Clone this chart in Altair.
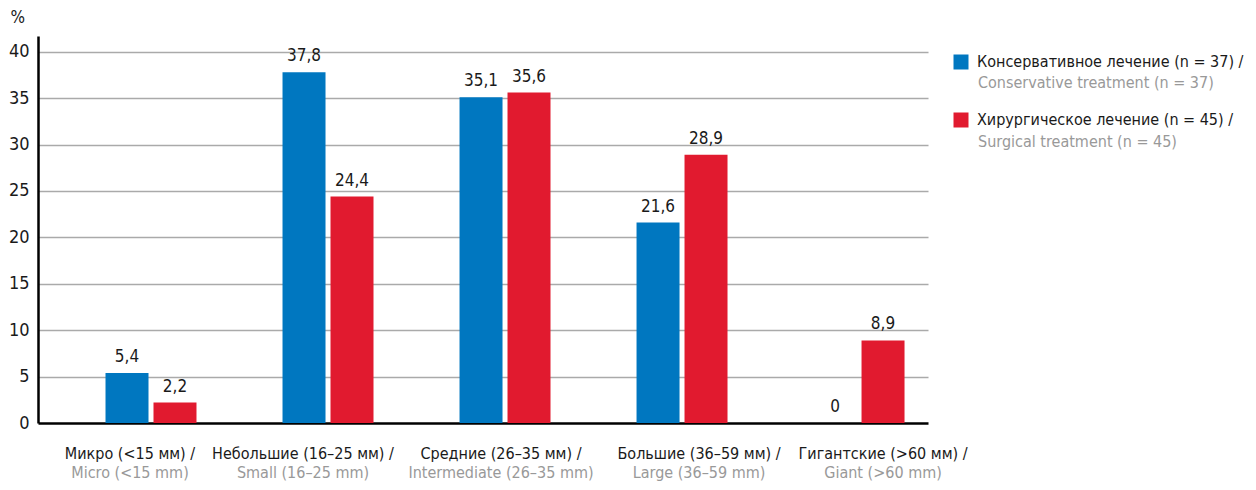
import altair as alt
import pandas as pd

# ---- data ----
categories_ru = [
    "Микро (<15 мм) /",
    "Небольшие (16–25 мм) /",
    "Средние (26–35 мм) /",
    "Большие (36–59 мм) /",
    "Гигантские (>60 мм) /",
]
categories_en = [
    "Micro (<15 mm)",
    "Small (16–25 mm)",
    "Intermediate (26–35 mm)",
    "Large (36–59 mm)",
    "Giant (>60 mm)",
]
series_ru = ["Консервативное лечение (n = 37) /", "Хирургическое лечение (n = 45) /"]
series_en = ["Conservative treatment (n = 37)", "Surgical treatment (n = 45)"]
conservative = [5.4, 37.8, 35.1, 21.6, 0]
surgical = [2.2, 24.4, 35.6, 28.9, 8.9]
y_ticks = [0, 5, 10, 15, 20, 25, 30, 35, 40]

rows = []
for s_idx, vals in enumerate([conservative, surgical]):
    for c_idx, v in enumerate(vals):
        rows.append({
            "cat": categories_ru[c_idx],
            "series": series_ru[s_idx],
            "value": v,
            "label": (f"{v:g}").replace(".", ","),
        })
df = pd.DataFrame(rows)

# ---- style ----
FONT = "DejaVu Sans Condensed, DejaVu Sans, sans-serif"
BLUE = "#0077c0"
RED = "#e11a2f"
GREY = "#999999"
DARK = "#1a1a1a"
label_shift = {  # horizontal nudge of axis labels (px)
    categories_ru[0]: -21,
    categories_ru[1]: -25,
    categories_ru[2]: -4,
    categories_ru[3]: 17,
    categories_ru[4]: 24,
}
offset_cond = {
    "condition": [{"test": f"datum.value === '{k}'", "value": v} for k, v in label_shift.items()],
    "value": 0,
}

x_scale = alt.Scale(domain=categories_ru, paddingInner=0.486, paddingOuter=0.257, align=0.742)
xo_scale = alt.Scale(domain=series_ru, paddingInner=0.104, paddingOuter=0)
y_scale = alt.Scale(domain=[0, 41.7], nice=False, zero=True)
color_scale = alt.Scale(domain=series_ru, range=[BLUE, RED])

en_cat_expr = (
    "[" + ",".join(f"'{e}'" for e in categories_en) + "][indexof(["
    + ",".join(f"'{r}'" for r in categories_ru) + "], datum.value)]"
)
en_ser_expr = (
    "[" + ",".join(f"'{e}'" for e in series_en) + "][indexof(["
    + ",".join(f"'{r}'" for r in series_ru) + "], datum.value)]"
)

y_axis = alt.Axis(
    values=y_ticks, ticks=False, grid=True,
    gridColor={"condition": {"test": "datum.value === 0", "value": "black"}, "value": "#aaaaaa"},
    gridWidth={"condition": {"test": "datum.value === 0", "value": 2.5}, "value": 1.5},
    domainColor="black", domainWidth=2.5,
    labelFont=FONT, labelFontSize=18, labelColor=DARK, labelPadding=9,
    title="%", titleAngle=0, titleAlign="left", titleBaseline="alphabetic",
    titleX=-28, titleY=-14, titleFont=FONT, titleFontSize=17,
    titleFontWeight="normal", titleColor=DARK,
)

base = alt.Chart(df)

bars = base.mark_bar().encode(
    x=alt.X("cat:N", scale=x_scale, sort=categories_ru, title=None,
            axis=alt.Axis(orient="bottom", labelAngle=0, ticks=False, grid=False,
                          domain=False, labelFont=FONT, labelFontSize=16,
                          labelColor=DARK, labelPadding=22, labelBaseline="top",
                          labelOffset=offset_cond, labelLimit=400)),
    xOffset=alt.XOffset("series:N", scale=xo_scale, sort=series_ru),
    y=alt.Y("value:Q", scale=y_scale, axis=y_axis),
    color=alt.Color("series:N", scale=color_scale, sort=series_ru,
                    legend=alt.Legend(orient="none", legendX=915, legendY=18, title=None,
                                      symbolType="square", symbolSize=225,
                                      symbolStrokeWidth=0, labelFont=FONT,
                                      labelFontSize=16, labelColor=DARK,
                                      labelOffset=8, rowPadding=42, labelLimit=400)),
)

texts = base.mark_text(baseline="alphabetic", dy=-11, font=FONT, fontSize=17,
                       color=DARK).encode(
    x=alt.X("cat:N", scale=x_scale, sort=categories_ru, axis=None),
    xOffset=alt.XOffset("series:N", scale=xo_scale, sort=series_ru),
    y=alt.Y("value:Q", scale=y_scale, axis=y_axis),
    text="label:N",
)

english = base.mark_point(opacity=0).encode(
    x=alt.X("cat:N", scale=x_scale, sort=categories_ru, title=None,
            axis=alt.Axis(orient="bottom", labelAngle=0, ticks=False, grid=False,
                          domain=False, labelFont=FONT, labelFontSize=16,
                          labelColor=GREY, labelPadding=41, labelBaseline="top",
                          labelExpr=en_cat_expr, labelOffset=offset_cond,
                          labelLimit=400)),
    y=alt.Y("value:Q", scale=y_scale, axis=y_axis),
    color=alt.Color("series:N", scale=color_scale, sort=series_ru,
                    legend=alt.Legend(orient="none", legendX=915, legendY=38, title=None,
                                      symbolType="square", symbolSize=225,
                                      symbolOpacity=0, labelFont=FONT,
                                      labelFontSize=16, labelColor=GREY,
                                      labelOffset=8, rowPadding=42,
                                      labelExpr=en_ser_expr, labelLimit=400)),
)

chart = alt.layer(bars, texts, english).resolve_axis(x="independent").resolve_legend(
    color="independent"
).properties(
    width=890, height=387,
    background="white",
    autosize=alt.AutoSizeParams(type="none"),
    padding={"left": 30, "top": 28, "right": 320, "bottom": 59},
).configure_view(stroke="transparent", strokeWidth=0)

chart.save("out.html", embed_options={"renderer": "svg", "actions": False})
